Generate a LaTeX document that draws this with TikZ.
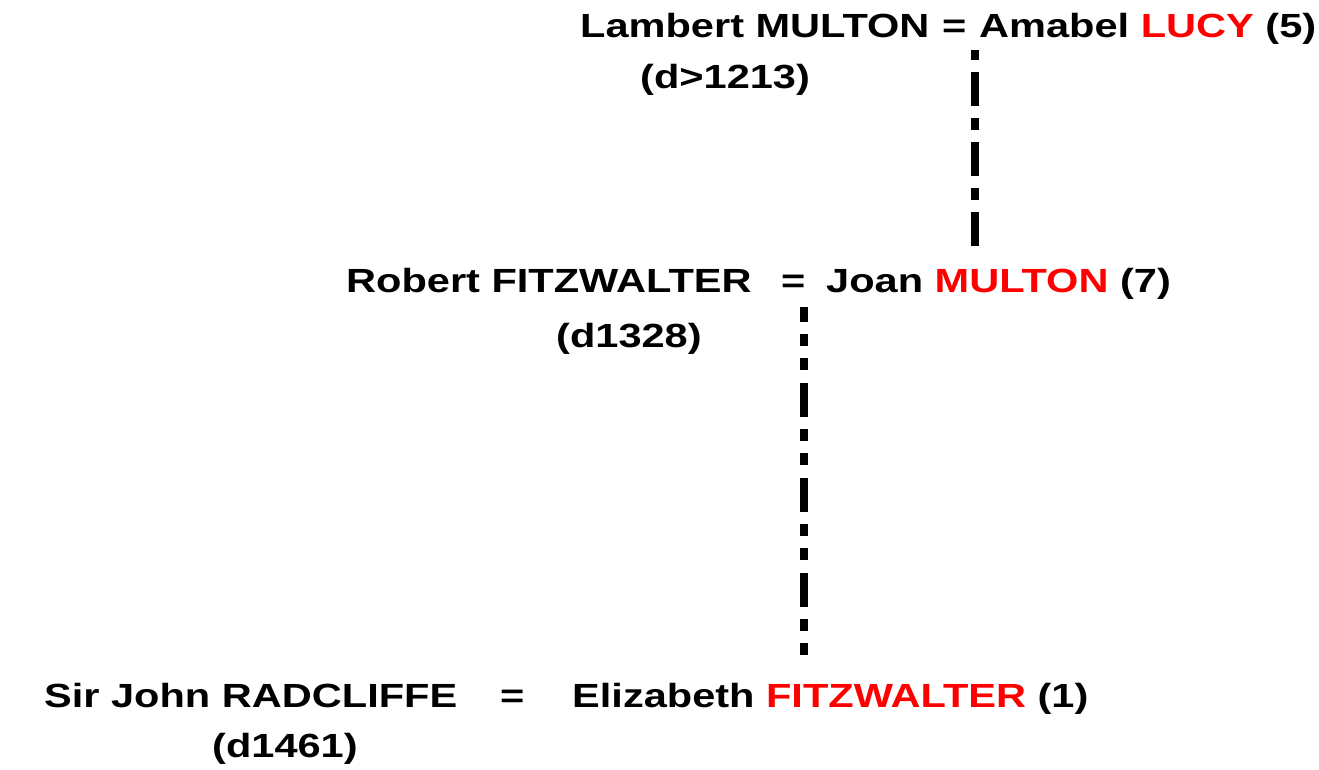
\documentclass[tikz,border=0pt]{standalone}
\usepackage{fontspec}
\setmainfont{Liberation Sans}[FakeStretch=1.24]
\begin{document}
\begin{tikzpicture}[x=1pt,y=-1pt,
    person/.style={anchor=base west,inner sep=0pt,font=\fontsize{33.5}{40}\selectfont\bfseries},
    descent/.style={line width=8pt,dash pattern=on 34pt off 12pt on 12pt off 12pt,dash phase=48pt},
    descentb/.style={line width=8pt,dash pattern=on 34pt off 12pt on 12pt off 12pt on 12pt off 13pt,dash phase=19pt}]
      \useasboundingbox (0,0) rectangle (1319,769);
      \draw
        (580,37) node[person] (lambert){Lambert MULTON}
        (942,37) node[person] (eq1){=}
        (979,37) node[person] (amabel){Amabel \textcolor{red}{LUCY} (5)}
        (640,88) node[person] (d1){(d>1213)}
        (346,292) node[person] (robert){Robert FITZWALTER}
        (781,292) node[person] (eq2){=}
        (826,292) node[person] (joan){Joan \textcolor{red}{MULTON} (7)}
        (556,347) node[person] (d2){(d1328)}
        (44,707) node[person] (john){Sir John RADCLIFFE}
        (500,707) node[person] (eq3){=}
        (572,707) node[person] (elizabeth){Elizabeth \textcolor{red}{FITZWALTER} (1)}
        (212,757) node[person] (d3){(d1461)};
      \coordinate (top1) at (975,50);
      \coordinate (bot1) at (975,248);
      \coordinate (top2) at (804,307);
      \coordinate (bot2) at (804,658);
      \begin{scope}[-]
        \draw[descent] (top1) to (bot1);
        \draw[descentb] (top2) to (bot2);
      \end{scope}
    \end{tikzpicture}
\end{document}
